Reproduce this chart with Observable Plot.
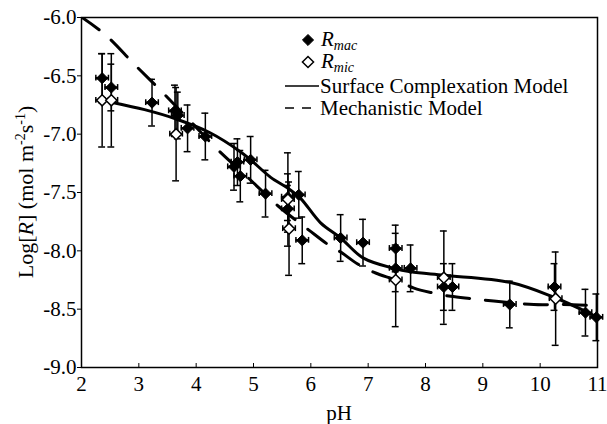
<!DOCTYPE html>
<html><head><meta charset="utf-8">
<script src="https://cdn.jsdelivr.net/npm/d3@7"></script>
<script src="https://cdn.jsdelivr.net/npm/@observablehq/plot@0.6"></script>
<style>body{margin:0;background:#fff}svg{display:block}</style>
</head><body><div id="chart"></div>
<script>
// ---- data ----
const xTicks = [2, 3, 4, 5, 6, 7, 8, 9, 10, 11];
const yTicks = [-9.0, -8.5, -8.0, -7.5, -7.0, -6.5, -6.0];

// R_mac (filled diamonds)
const macPH  = [2.36, 2.52, 3.23, 3.63, 3.68, 3.85, 4.16, 4.66, 4.72, 4.77, 4.95, 5.21, 5.60, 5.60, 5.79, 5.85, 6.52, 6.91, 7.48, 7.48, 7.74, 8.32, 8.47, 9.47, 10.25, 10.79, 10.98];
const macLog = [-6.52, -6.60, -6.73, -6.80, -6.84, -6.95, -7.02, -7.28, -7.24, -7.36, -7.22, -7.51, -7.54, -7.64, -7.52, -7.91, -7.89, -7.93, -7.98, -8.15, -8.15, -8.31, -8.31, -8.46, -8.31, -8.53, -8.57];
const macErr = [0.21, 0.20, 0.20, 0.22, 0.20, 0.20, 0.20, 0.20, 0.20, 0.22, 0.20, 0.20, 0.20, 0.20, 0.20, 0.20, 0.20, 0.20, 0.20, 0.20, 0.20, 0.20, 0.20, 0.20, 0.20, 0.20, 0.20];

// R_mic (open diamonds)
const micPH  = [2.36, 2.52, 3.65, 5.60, 5.62, 7.48, 8.32, 10.27];
const micLog = [-6.71, -6.71, -7.00, -7.56, -7.81, -8.25, -8.23, -8.41];
const micErr = [0.40, 0.40, 0.40, 0.40, 0.40, 0.40, 0.40, 0.40];

// Surface Complexation Model (solid)
const scmPH  = [2.56, 3.1, 3.65, 4.25, 4.77, 4.95, 5.30, 5.59, 5.82, 6.17, 6.52, 6.91, 7.45, 7.74, 8.32, 9.47, 10.25, 10.88, 11.0];
const scmLog = [-6.73, -6.79, -6.87, -6.99, -7.15, -7.22, -7.37, -7.46, -7.55, -7.76, -7.89, -8.06, -8.15, -8.18, -8.21, -8.27, -8.40, -8.54, -8.57];

// Mechanistic Model (dashed)
const mechPH  = [1.98, 2.42, 2.92, 3.41, 3.90, 4.39, 4.92, 5.44, 5.96, 6.34, 6.52, 6.81, 7.13, 7.48, 7.80, 8.12, 8.44, 8.81, 9.19, 9.89, 10.4, 11.0];
const mechLog = [-5.99, -6.15, -6.40, -6.64, -6.89, -7.14, -7.38, -7.62, -7.82, -7.96, -8.01, -8.11, -8.19, -8.25, -8.32, -8.36, -8.39, -8.41, -8.43, -8.46, -8.46, -8.47];

const pHErr = 0.11;

// ---- tables ----
const mac = macPH.map((x, i) => ({x, y: macLog[i], e: macErr[i]}));
const mic = micPH.map((x, i) => ({x, y: micLog[i], e: micErr[i]}));
const scm = scmPH.map((x, i) => ({x, y: scmLog[i]}));
const mech = mechPH.map((x, i) => ({x, y: mechLog[i]}));
const pts = mac.concat(mic);
const capX = 0.06;   // half width of vertical-bar caps (pH)
const capY = 0.025;  // half height of horizontal-bar caps (log units)

const font = "'Liberation Serif', 'Times New Roman', serif";

const chart = Plot.plot({
  width: 607, height: 424,
  marginLeft: 81, marginRight: 10, marginTop: 17, marginBottom: 57,
  style: {fontFamily: font, fontSize: "21px", color: "#000", background: "#fff", overflow: "visible"},
  x: {domain: [2, 11], label: null},
  y: {domain: [-9, -6], label: null},
  marks: [
    Plot.axisX({ticks: xTicks, tickFormat: d => String(d), tickSize: -4, tickPadding: 13, label: null, fontSize: 21}),
    Plot.axisY({ticks: yTicks, tickFormat: d => d.toFixed(1), tickSize: 4, tickPadding: 1, label: null, fontSize: 21}),
    // model curves
    Plot.line(mech, {x: "x", y: "y", stroke: "#000", strokeWidth: 3, strokeDasharray: "23,16", curve: "catmull-rom", clip: true}),
    Plot.line(scm, {x: "x", y: "y", stroke: "#000", strokeWidth: 3, curve: "catmull-rom"}),
    // vertical error bars with caps
    Plot.ruleX(pts, {x: "x", y1: d => d.y - d.e, y2: d => d.y + d.e, stroke: "#000", strokeWidth: 1.5}),
    Plot.ruleY(pts, {y: d => d.y - d.e, x1: d => d.x - capX, x2: d => d.x + capX, stroke: "#000", strokeWidth: 1.5}),
    Plot.ruleY(pts, {y: d => d.y + d.e, x1: d => d.x - capX, x2: d => d.x + capX, stroke: "#000", strokeWidth: 1.5}),
    // horizontal error bars with caps
    Plot.ruleY(pts, {y: "y", x1: d => d.x - pHErr, x2: d => d.x + pHErr, stroke: "#000", strokeWidth: 2.5}),
    Plot.ruleX(pts, {x: d => d.x - pHErr, y1: d => d.y - capY, y2: d => d.y + capY, stroke: "#000", strokeWidth: 1.5}),
    Plot.ruleX(pts, {x: d => d.x + pHErr, y1: d => d.y - capY, y2: d => d.y + capY, stroke: "#000", strokeWidth: 1.5}),
    // points
    Plot.dot(mac, {x: "x", y: "y", symbol: "diamond2", r: 5, fill: "#000", stroke: "#000", strokeWidth: 1}),
    Plot.dot(mic, {x: "x", y: "y", symbol: "diamond2", r: 5, fill: "#fff", stroke: "#000", strokeWidth: 1.5}),
    Plot.frame({stroke: "#000", strokeWidth: 1.5})
  ]
});

const svg = d3.select(chart);
// y axis label
const yl = svg.append("text")
  .attr("transform", "translate(33,192) rotate(-90)")
  .attr("text-anchor", "middle")
  .attr("font-family", font).attr("font-size", 22).attr("fill", "#000");
yl.append("tspan").text("Log[");
yl.append("tspan").attr("font-style", "italic").text("R");
yl.append("tspan").text("] (mol m");
yl.append("tspan").attr("font-size", 14).attr("dy", -8).text("-2");
yl.append("tspan").attr("dy", 8).text("s");
yl.append("tspan").attr("font-size", 14).attr("dy", -8).text("-1");
yl.append("tspan").attr("dy", 8).text(")");
// x axis label
svg.append("text").attr("x", 339).attr("y", 420).attr("text-anchor", "middle")
  .attr("font-family", font).attr("font-size", 21).attr("fill", "#000").text("pH");

// legend
const lg = svg.append("g").attr("font-family", font).attr("font-size", 21).attr("fill", "#000").attr("text-anchor", "start");
const dia = d3.symbol(d3.symbolDiamond2, Math.PI * 25)();
lg.append("path").attr("d", dia).attr("transform", "translate(308,40)").attr("fill", "#000").attr("stroke", "#000");
lg.append("path").attr("d", dia).attr("transform", "translate(308,62)").attr("fill", "#fff").attr("stroke", "#000").attr("stroke-width", 1.5);
function rlabel(y, sub) {
  const t = lg.append("text").attr("x", 321).attr("y", y).attr("font-style", "italic");
  t.append("tspan").text("R");
  t.append("tspan").attr("font-size", 14).attr("dy", 4).text(sub);
}
rlabel(46, "mac");
rlabel(68, "mic");
lg.append("line").attr("x1", 285).attr("x2", 319).attr("y1", 86).attr("y2", 86).attr("stroke", "#000").attr("stroke-width", 1.5);
lg.append("text").attr("x", 320).attr("y", 93).text("Surface Complexation Model");
lg.append("line").attr("x1", 285).attr("x2", 319).attr("y1", 108).attr("y2", 108).attr("stroke", "#000").attr("stroke-width", 1.5).attr("stroke-dasharray", "9,8");
lg.append("text").attr("x", 320).attr("y", 115).text("Mechanistic Model");

document.getElementById("chart").appendChild(chart);
</script>
</body></html>
